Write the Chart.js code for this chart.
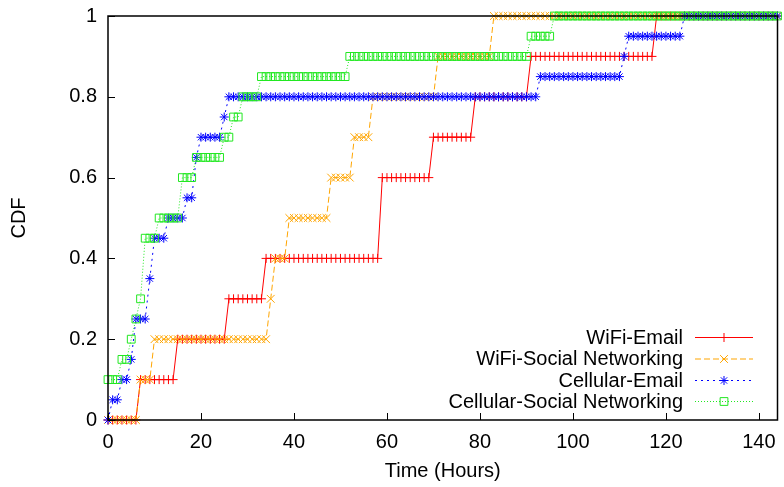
<!DOCTYPE html>
<html>
<head>
<meta charset="utf-8">
<script src="https://cdn.jsdelivr.net/npm/chart.js@4.4.1/dist/chart.umd.min.js"></script>
<style>
  html, body { margin: 0; padding: 0; background: #fff; }
  #wrap { width: 784px; height: 487px; }
</style>
</head>
<body>
<div id="wrap"><canvas id="cdf" width="784" height="487"></canvas></div>
<script>
// sampling grid, one point per hour
const hours = [
  0, 1, 2, 3, 4, 5, 6, 7, 8, 9, 10, 11, 12, 13, 14, 15, 16, 17, 18, 19,
  20, 21, 22, 23, 24, 25, 26, 27, 28, 29, 30, 31, 32, 33, 34, 35, 36, 37, 38, 39,
  40, 41, 42, 43, 44, 45, 46, 47, 48, 49, 50, 51, 52, 53, 54, 55, 56, 57, 58, 59,
  60, 61, 62, 63, 64, 65, 66, 67, 68, 69, 70, 71, 72, 73, 74, 75, 76, 77, 78, 79,
  80, 81, 82, 83, 84, 85, 86, 87, 88, 89, 90, 91, 92, 93, 94, 95, 96, 97, 98, 99,
  100, 101, 102, 103, 104, 105, 106, 107, 108, 109, 110, 111, 112, 113, 114, 115, 116, 117, 118, 119,
  120, 121, 122, 123, 124, 125, 126, 127, 128, 129, 130, 131, 132, 133, 134, 135, 136, 137, 138, 139,
  140, 141, 142, 143, 144
];

const wifiEmail = [
  0, 0, 0, 0, 0, 0, 0,                                   // 0-6
  0.1, 0.1, 0.1, 0.1, 0.1, 0.1, 0.1, 0.1,                // 7-14
  0.2, 0.2, 0.2, 0.2, 0.2, 0.2, 0.2, 0.2, 0.2, 0.2, 0.2, // 15-25
  0.3, 0.3, 0.3, 0.3, 0.3, 0.3, 0.3, 0.3,                // 26-33
  0.4, 0.4, 0.4, 0.4, 0.4, 0.4, 0.4, 0.4, 0.4, 0.4,      // 34-43
  0.4, 0.4, 0.4, 0.4, 0.4, 0.4, 0.4, 0.4, 0.4, 0.4,      // 44-53
  0.4, 0.4, 0.4, 0.4, 0.4,                               // 54-58
  0.6, 0.6, 0.6, 0.6, 0.6, 0.6, 0.6, 0.6, 0.6, 0.6, 0.6, // 59-69
  0.7, 0.7, 0.7, 0.7, 0.7, 0.7, 0.7, 0.7, 0.7,           // 70-78
  0.8, 0.8, 0.8, 0.8, 0.8, 0.8, 0.8, 0.8, 0.8, 0.8, 0.8, 0.8, // 79-90
  0.9, 0.9, 0.9, 0.9, 0.9, 0.9, 0.9, 0.9, 0.9, 0.9,      // 91-100
  0.9, 0.9, 0.9, 0.9, 0.9, 0.9, 0.9, 0.9, 0.9, 0.9,      // 101-110
  0.9, 0.9, 0.9, 0.9, 0.9, 0.9, 0.9,                     // 111-117
  1, 1, 1, 1, 1, 1, 1, 1, 1, 1,                          // 118-127
  1, 1, 1, 1, 1, 1, 1, 1, 1, 1,                          // 128-137
  1, 1, 1, 1, 1, 1, 1                                    // 138-144
];

const wifiSocial = [
  0, 0, 0, 0, 0, 0, 0,                                   // 0-6
  0.1, 0.1, 0.1,                                         // 7-9
  0.2, 0.2, 0.2, 0.2, 0.2, 0.2, 0.2, 0.2, 0.2, 0.2,      // 10-19
  0.2, 0.2, 0.2, 0.2, 0.2, 0.2, 0.2, 0.2, 0.2, 0.2,      // 20-29
  0.2, 0.2, 0.2, 0.2, 0.2,                               // 30-34
  0.3,                                                   // 35
  0.4, 0.4, 0.4,                                         // 36-38
  0.5, 0.5, 0.5, 0.5, 0.5, 0.5, 0.5, 0.5, 0.5,           // 39-47
  0.6, 0.6, 0.6, 0.6, 0.6,                               // 48-52
  0.7, 0.7, 0.7, 0.7,                                    // 53-56
  0.8, 0.8, 0.8, 0.8, 0.8, 0.8, 0.8, 0.8, 0.8, 0.8, 0.8, 0.8, 0.8, 0.8, // 57-70
  0.9, 0.9, 0.9, 0.9, 0.9, 0.9, 0.9, 0.9, 0.9, 0.9, 0.9, 0.9,           // 71-82
  1, 1, 1, 1, 1, 1, 1, 1, 1, 1,                          // 83-92
  1, 1, 1, 1, 1, 1, 1, 1, 1, 1,                          // 93-102
  1, 1, 1, 1, 1, 1, 1, 1, 1, 1,                          // 103-112
  1, 1, 1, 1, 1, 1, 1, 1, 1, 1,                          // 113-122
  1, 1, 1, 1, 1, 1, 1, 1, 1, 1,                          // 123-132
  1, 1, 1, 1, 1, 1, 1, 1, 1, 1,                          // 133-142
  1, 1                                                   // 143-144
];

const cellEmail = [
  0,                                                     // 0
  0.05, 0.05,                                            // 1-2
  0.1, 0.1,                                              // 3-4
  0.15,                                                  // 5
  0.25, 0.25, 0.25,                                      // 6-8
  0.35,                                                  // 9
  0.45, 0.45, 0.45,                                      // 10-12
  0.5, 0.5, 0.5, 0.5,                                    // 13-16
  0.55, 0.55,                                            // 17-18
  0.65,                                                  // 19
  0.7, 0.7, 0.7, 0.7, 0.7,                               // 20-24
  0.75,                                                  // 25
  0.8, 0.8, 0.8, 0.8, 0.8, 0.8, 0.8, 0.8, 0.8, 0.8,      // 26-35
  0.8, 0.8, 0.8, 0.8, 0.8, 0.8, 0.8, 0.8, 0.8, 0.8,      // 36-45
  0.8, 0.8, 0.8, 0.8, 0.8, 0.8, 0.8, 0.8, 0.8, 0.8,      // 46-55
  0.8, 0.8, 0.8, 0.8, 0.8, 0.8, 0.8, 0.8, 0.8, 0.8,      // 56-65
  0.8, 0.8, 0.8, 0.8, 0.8, 0.8, 0.8, 0.8, 0.8, 0.8,      // 66-75
  0.8, 0.8, 0.8, 0.8, 0.8, 0.8, 0.8, 0.8, 0.8, 0.8,      // 76-85
  0.8, 0.8, 0.8, 0.8, 0.8, 0.8, 0.8,                     // 86-92
  0.85, 0.85, 0.85, 0.85, 0.85, 0.85, 0.85, 0.85, 0.85,  // 93-101
  0.85, 0.85, 0.85, 0.85, 0.85, 0.85, 0.85, 0.85, 0.85,  // 102-110
  0.9,                                                   // 111
  0.95, 0.95, 0.95, 0.95, 0.95, 0.95, 0.95, 0.95, 0.95, 0.95, 0.95, 0.95, // 112-123
  1, 1, 1, 1, 1, 1, 1, 1, 1, 1,                          // 124-133
  1, 1, 1, 1, 1, 1, 1, 1, 1, 1,                          // 134-143
  1                                                      // 144
];

const cellSocial = [
  0.1, 0.1, 0.1,                                         // 0-2
  0.15, 0.15,                                            // 3-4
  0.2,                                                   // 5
  0.25,                                                  // 6
  0.3,                                                   // 7
  0.45, 0.45, 0.45,                                      // 8-10
  0.5, 0.5, 0.5, 0.5, 0.5,                               // 11-15
  0.6, 0.6, 0.6,                                         // 16-18
  0.65, 0.65, 0.65, 0.65, 0.65, 0.65,                    // 19-24
  0.7, 0.7,                                              // 25-26
  0.75, 0.75,                                            // 27-28
  0.8, 0.8, 0.8, 0.8,                                    // 29-32
  0.85, 0.85, 0.85, 0.85, 0.85, 0.85, 0.85, 0.85, 0.85, 0.85, // 33-42
  0.85, 0.85, 0.85, 0.85, 0.85, 0.85, 0.85, 0.85, 0.85,       // 43-51
  0.9, 0.9, 0.9, 0.9, 0.9, 0.9, 0.9, 0.9, 0.9, 0.9,      // 52-61
  0.9, 0.9, 0.9, 0.9, 0.9, 0.9, 0.9, 0.9, 0.9, 0.9,      // 62-71
  0.9, 0.9, 0.9, 0.9, 0.9, 0.9, 0.9, 0.9, 0.9, 0.9,      // 72-81
  0.9, 0.9, 0.9, 0.9, 0.9, 0.9, 0.9, 0.9, 0.9,           // 82-90
  0.95, 0.95, 0.95, 0.95, 0.95,                          // 91-95
  1, 1, 1, 1, 1, 1, 1, 1, 1, 1,                          // 96-105
  1, 1, 1, 1, 1, 1, 1, 1, 1, 1,                          // 106-115
  1, 1, 1, 1, 1, 1, 1, 1, 1, 1,                          // 116-125
  1, 1, 1, 1, 1, 1, 1, 1, 1, 1,                          // 126-135
  1, 1, 1, 1, 1, 1, 1, 1, 1                              // 136-144
];

const seriesNames = ['WiFi-Email', 'WiFi-Social Networking', 'Cellular-Email', 'Cellular-Social Networking'];
const xTicks = [0, 20, 40, 60, 80, 100, 120, 140];
const yTicks = [0, 0.2, 0.4, 0.6, 0.8, 1];
const yTickLabels = ['0', '0.2', '0.4', '0.6', '0.8', '1'];

const FONT = '"Liberation Sans", Arial, sans-serif';

const toPoints = vals => hours.map((h, i) => ({x: h, y: vals[i]}));

const styles = [
  {color: '#ff0000', dash: [], point: 'cross', r: 4.5},
  {color: '#ffa500', dash: [6, 3], point: 'crossRot', r: 5.5},
  {color: '#0000ff', dash: [2, 4], point: 'star', r: 4.5},
  {color: '#22e822', dash: [1, 2], point: 'rect', r: 5.5}
];

const datasets = [wifiEmail, wifiSocial, cellEmail, cellSocial].map((vals, i) => ({
  label: seriesNames[i],
  data: toPoints(vals),
  borderColor: styles[i].color,
  backgroundColor: 'rgba(0,0,0,0)',
  borderWidth: 1,
  borderDash: styles[i].dash,
  pointStyle: styles[i].point,
  pointRadius: styles[i].r,
  pointBorderWidth: 1,
  pointBorderColor: styles[i].color,
  pointBackgroundColor: 'rgba(0,0,0,0)',
  tension: 0,
  clip: false,
  order: 4 - i   // later series drawn on top, like gnuplot
}));

// box border, inward ticks and gnuplot-like legend
const gnuFrame = {
  id: 'gnuFrame',
  afterDraw(chart) {
    const {ctx, chartArea: a, scales} = chart;
    ctx.save();
    ctx.strokeStyle = '#000';
    ctx.lineWidth = 1;
    ctx.setLineDash([]);
    ctx.beginPath();
    xTicks.forEach(v => {
      const px = Math.round(scales.x.getPixelForValue(v)) + 0.5;
      ctx.moveTo(px, a.bottom);
      ctx.lineTo(px, a.bottom - 7);
    });
    yTicks.forEach(v => {
      const py = Math.round(scales.y.getPixelForValue(v)) + 0.5;
      ctx.moveTo(a.left, py);
      ctx.lineTo(a.left + 7, py);
    });
    ctx.stroke();
    ctx.lineWidth = 1.5;
    ctx.strokeRect(a.left, a.top, a.right - a.left, a.bottom - a.top);

    // legend
    const rowY = [337, 358.5, 380, 401];
    ctx.font = '20px ' + FONT;
    ctx.textAlign = 'right';
    ctx.textBaseline = 'middle';
    chart.data.datasets.forEach((ds, i) => {
      const y = rowY[i];
      ctx.fillStyle = '#000';
      ctx.fillText(ds.label, 683, y + 1);
      ctx.strokeStyle = ds.borderColor;
      ctx.lineWidth = 1;
      ctx.setLineDash(ds.borderDash);
      ctx.beginPath();
      ctx.moveTo(695, y + 0.5);
      ctx.lineTo(753, y + 0.5);
      ctx.stroke();
      ctx.setLineDash([]);
      ctx.fillStyle = 'rgba(0,0,0,0)';
      Chart.helpers.drawPoint(ctx, {
        pointStyle: ds.pointStyle, radius: ds.pointRadius, rotation: 0, borderWidth: 1
      }, 724, y + 0.5);
    });
    ctx.restore();
  }
};

new Chart(document.getElementById('cdf'), {
  type: 'line',
  data: {datasets},
  options: {
    responsive: false,
    animation: false,
    devicePixelRatio: 1,
    layout: {padding: {top: 16, right: 5, left: 0, bottom: 0}},
    plugins: {legend: {display: false}, tooltip: {enabled: false}},
    scales: {
      x: {
        type: 'linear',
        min: 0,
        max: 144,
        afterBuildTicks: s => { s.ticks = xTicks.map(v => ({value: v})); },
        afterFit: s => { s.paddingLeft = 0; s.paddingRight = 0; },
        grid: {display: false, drawTicks: false},
        border: {display: false},
        ticks: {color: '#000', font: {family: FONT, size: 20}, padding: 10, maxRotation: 0},
        title: {display: true, text: 'Time (Hours)', color: '#000', font: {family: FONT, size: 20}, padding: {top: -5, bottom: 4}}
      },
      y: {
        min: 0,
        max: 1,
        afterFit: s => { s.width = 108; s.paddingTop = 0; s.paddingBottom = 0; },
        afterBuildTicks: s => { s.ticks = yTicks.map(v => ({value: v})); },
        grid: {display: false, drawTicks: false},
        border: {display: false},
        ticks: {
          color: '#000', font: {family: FONT, size: 20}, padding: 11,
          callback: (v, i) => yTickLabels[i]
        },
        title: {display: true, text: 'CDF', color: '#000', font: {family: FONT, size: 20}, padding: {top: 7, bottom: 7}}
      }
    }
  },
  plugins: [gnuFrame]
});
</script>
</body>
</html>
